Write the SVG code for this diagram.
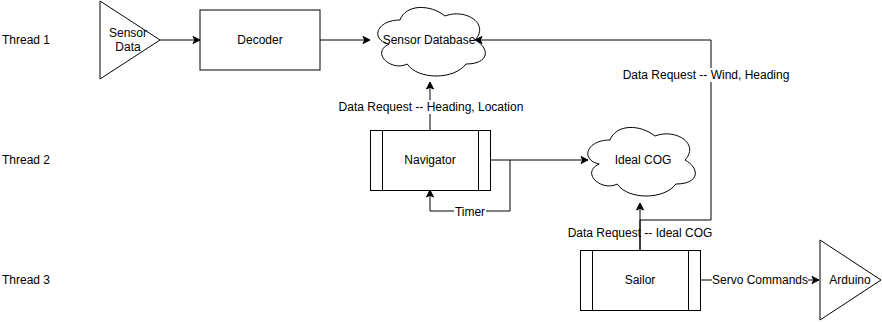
<svg xmlns="http://www.w3.org/2000/svg" width="882" height="322" viewBox="0 0 882 322">
  <style>
    text { font-family: "Liberation Sans", Arial, sans-serif; font-size: 12px; fill: #000; }
    .mid { text-anchor: middle; }
    .shape { fill: #fff; stroke: #000; stroke-width: 1; }
    .edge { fill: none; stroke: #000; stroke-width: 1; }
    .bg { fill: #fff; stroke: none; }
  </style>
  <defs>
    <marker id="arrow" markerUnits="userSpaceOnUse" markerWidth="10" markerHeight="10" viewBox="-1 -5 10 10" refX="7" refY="0" orient="auto">
      <path d="M0,-3.5 L7,0 L0,3.5 L1.75,0 Z" fill="#000" stroke="#000" stroke-width="1"/>
    </marker>
  </defs>

  <rect width="882" height="322" fill="#fff"/>

  <!-- thread row labels -->
  <g id="thread-labels">
    <text x="2" y="44">Thread 1</text>
    <text x="2" y="164">Thread 2</text>
    <text x="2" y="284">Thread 3</text>
  </g>

  <!-- connectors -->
  <g id="connectors">
    <path class="edge" d="M160,40 H200" marker-end="url(#arrow)"/>
    <path class="edge" d="M320,40 H370" marker-end="url(#arrow)"/>
    <path class="edge" d="M430,130 V82" marker-end="url(#arrow)"/>
    <path class="edge" d="M490,160 H588" marker-end="url(#arrow)"/>
    <path class="edge" d="M510,160 V211 H430 V190" marker-end="url(#arrow)"/>
    <path class="edge" d="M700,280 H819" marker-end="url(#arrow)"/>

    <!-- edge labels -->
    <rect class="bg" x="338" y="100" width="186" height="14"/>
    <text class="mid" x="431" y="111">Data Request -- Heading, Location</text>
    <rect class="bg" x="454" y="205" width="32" height="14"/>
    <text class="mid" x="470" y="216">Timer</text>
    <rect class="bg" x="712" y="273" width="96" height="14"/>
    <text class="mid" x="760" y="284">Servo Commands</text>
    <rect class="bg" x="622" y="68" width="168" height="14"/>
    <text class="mid" x="706" y="79">Data Request -- Wind, Heading</text>
    <rect class="bg" x="567" y="226" width="146" height="14"/>
    <text class="mid" x="640" y="237">Data Request -- Ideal COG</text>

    <path class="edge" d="M640,250 V203" marker-end="url(#arrow)"/>
    <path class="edge" d="M640,250 V220 H711 V82"/>
    <path class="edge" d="M711,68 V40 H475" marker-end="url(#arrow)"/>
  </g>

  <!-- nodes -->
  <g id="sensor-data">
    <path class="shape" d="M100,1 L160,40 L100,79 Z"/>
    <text class="mid" x="128" y="37">Sensor</text>
    <text class="mid" x="128" y="51">Data</text>
  </g>

  <g id="decoder">
    <rect class="shape" x="200" y="10" width="120" height="60"/>
    <text class="mid" x="260" y="44">Decoder</text>
  </g>

  <g id="sensor-database">
    <path class="shape" d="M400,20 C376,20 370,40 389.2,44 C370,52.8 391.6,72 407.2,64 C418,80 454,80 466,64 C490,64 490,48 475,40 C490,24 466,8 445,16 C430,4 406,4 400,20 Z"/>
    <text class="mid" x="429" y="44">Sensor Database</text>
  </g>

  <g id="navigator">
    <rect class="shape" x="370.5" y="130.5" width="120" height="60"/>
    <path class="edge" d="M382.5,130.5 V190.5 M478.5,130.5 V190.5"/>
    <text class="mid" x="430" y="164">Navigator</text>
  </g>

  <g id="ideal-cog">
    <path class="shape" d="M610,140 C586,140 580,160 599.2,164 C580,172.8 601.6,192 617.2,184 C628,200 664,200 676,184 C700,184 700,168 685,160 C700,144 676,128 655,136 C640,124 616,124 610,140 Z"/>
    <text class="mid" x="643" y="164">Ideal COG</text>
  </g>

  <g id="sailor">
    <rect class="shape" x="580.5" y="250.5" width="120" height="60"/>
    <path class="edge" d="M592.5,250.5 V310.5 M688.5,250.5 V310.5"/>
    <text class="mid" x="640" y="284">Sailor</text>
  </g>

  <g id="arduino">
    <path class="shape" d="M820,240 L881,280 L820,320 Z"/>
    <text class="mid" x="850" y="284">Arduino</text>
  </g>
</svg>
